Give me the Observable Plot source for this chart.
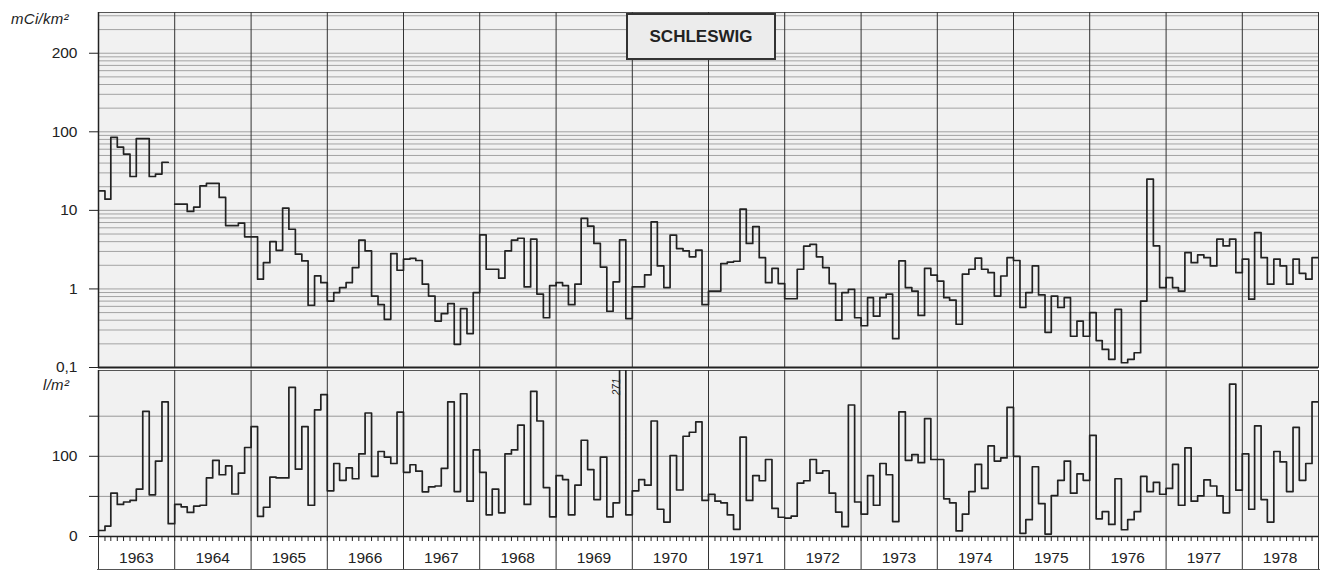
<!DOCTYPE html>
<html><head><meta charset="utf-8">
<script src="https://cdn.jsdelivr.net/npm/d3@7"></script>
<script src="https://cdn.jsdelivr.net/npm/@observablehq/plot@0.6"></script>
<style>
body{margin:0;background:#fff;font-family:"Liberation Sans",Arial,sans-serif;}
#wrap{position:relative;width:1338px;height:572px;overflow:hidden;}
#wrap svg{display:block;}
.unit{position:absolute;font-style:italic;font-size:15px;color:#222;letter-spacing:0.3px;}
#title{position:absolute;left:626px;top:13px;width:150px;height:47px;border:2px solid #333;background:#ececec;box-sizing:border-box;display:flex;align-items:center;justify-content:center;font-weight:bold;font-size:17px;color:#222;}
#baseline{position:absolute;left:97px;top:569px;width:1223px;height:0;border-top:1.5px solid #555;}
</style></head><body>
<div id="wrap">
  <div id="top"></div>
  <div id="bot"></div>
  <div class="unit" style="left:11px;top:10px">mCi/km²</div>
  <div class="unit" style="left:43px;top:376px">l/m²</div>
  <div id="title">SCHLESWIG</div>
  <div id="baseline"></div>
</div>
<script>
// ---- data ----
const years = [1963,1964,1965,1966,1967,1968,1969,1970,1971,1972,1973,1974,1975,1976,1977,1978];

// Monthly activity deposition, mCi/km² (log scale); null = no value
const activity = [
  /*1963*/ 17.7, 13.9, 85, 64, 52, 27, 82, 82, 27, 29, 41, null,
  /*1964*/ 12, 12, 9.7, 11, 20.5, 22, 22, 14.6, 6.4, 6.4, 6.9, 4.6,
  /*1965*/ 4.6, 1.33, 2.16, 4.0, 3.1, 10.7, 5.75, 2.77, 2.27, 0.62, 1.47, 1.2,
  /*1966*/ 0.70, 0.9, 1.04, 1.2, 1.87, 4.17, 3.05, 0.81, 0.63, 0.41, 2.82, 1.73,
  /*1967*/ 2.39, 2.45, 2.3, 1.15, 0.81, 0.39, 0.485, 0.65, 0.197, 0.56, 0.27, 0.90,
  /*1968*/ 4.87, 1.78, 1.78, 1.37, 3.05, 4.17, 4.42, 1.06, 4.3, 0.86, 0.43, 1.1,
  /*1969*/ 1.2, 1.1, 0.63, 1.15, 7.9, 6.3, 3.8, 1.9, 0.52, 1.23, 4.2, 0.42,
  /*1970*/ 1.06, 1.06, 1.51, 7.13, 1.96, 1.04, 4.83, 3.26, 3.05, 2.56, 3.11, 0.63,
  /*1971*/ 0.94, 0.94, 2.1, 2.2, 2.25, 10.4, 3.8, 6.2, 2.5, 1.2, 1.83, 1.17,
  /*1972*/ 0.75, 0.75, 1.78, 3.5, 3.7, 2.56, 1.87, 1.17, 0.40, 0.9, 0.99, 0.43,
  /*1973*/ 0.34, 0.775, 0.45, 0.775, 0.86, 0.233, 2.27, 1.04, 0.94, 0.46, 1.83, 1.5,
  /*1974*/ 1.26, 0.775, 0.72, 0.355, 1.54, 1.78, 2.46, 1.78, 1.61, 0.81, 1.46, 2.5,
  /*1975*/ 2.3, 0.58, 0.9, 1.96, 0.84, 0.28, 0.81, 0.58, 0.775, 0.25, 0.39, 0.25,
  /*1976*/ 0.5, 0.22, 0.17, 0.127, 0.55, 0.115, 0.127, 0.154, 0.70, 25, 3.53, 1.04,
  /*1977*/ 1.39, 1.04, 0.94, 2.9, 2.16, 2.71, 2.5, 1.96, 4.3, 3.53, 4.3, 1.61,
  /*1978*/ 2.39, 0.74, 5.2, 2.5, 1.15, 2.39, 1.96, 1.15, 2.39, 1.58, 1.33, 2.5
];

// Monthly precipitation, l/m²
const precipitation = [
  /*1963*/ 7.5, 13, 54, 40, 43, 45, 59, 156, 52, 94, 168, 16,
  /*1964*/ 40, 37, 30, 38, 39, 73, 95, 77, 88, 53, 79, 111,
  /*1965*/ 137, 25, 36.5, 74, 73, 73, 186, 84, 137, 39, 158, 177,
  /*1966*/ 57, 91, 70, 85.5, 72, 103, 154, 75, 106, 99, 91, 155,
  /*1967*/ 80, 89.5, 81.5, 55.7, 62, 63, 85, 168, 56, 178, 44, 108,
  /*1968*/ 80, 27, 59, 29.5, 103, 108, 139, 40, 181, 144, 61, 24.5,
  /*1969*/ 76, 71, 27, 64, 120, 83.5, 46, 99, 24.5, 42, 271, 27,
  /*1970*/ 57, 71, 64, 144, 34, 18, 101, 58, 125, 130, 143, 45,
  /*1971*/ 52.5, 44, 42, 27, 9, 124, 45, 76, 69.5, 96, 35, 24,
  /*1972*/ 23, 25.4, 66.5, 69.5, 96, 79, 82, 54, 30.5, 12.3, 164, 43,
  /*1973*/ 28, 76, 39, 91, 77, 18.6, 155.5, 95, 102, 92, 147, 96,
  /*1974*/ 96, 47, 42, 7, 28, 56, 90, 60, 113, 94, 98, 161,
  /*1975*/ 100, 4, 21, 87, 41, 3, 51, 70, 94, 54, 78, 70,
  /*1976*/ 126, 22, 31, 15, 72, 8.4, 21, 31, 75, 56, 67.5, 52.7,
  /*1977*/ 60, 90, 39, 110.5, 44, 50.6, 70.5, 63, 50.6, 29.5, 190, 57.8,
  /*1978*/ 103, 34, 138, 46, 18, 106, 93, 56, 136, 70, 91, 168
];

const topTicks = [0.1, 1, 10, 100, 1000];
const topTickLabels = ["0,1", "1", "10", "100", "200"];
const bottomTicks = [0, 50, 100, 150];
const bottomTickLabels = ["0", "", "100", ""];
const annotations = [{year: 1969, month: 10, label: "271"}];

// ---- derived ----
const firstYear = years[0];
const ym = (y, m) => new Date(Date.UTC(y, m, 1));
const xDomain = [ym(firstYear, 0), ym(years[years.length - 1] + 1, 0)];
const yearStarts = years.map(y => ym(y, 0)).concat([xDomain[1]]);
const midYears = years.map(y => ym(y, 6));
const monthStarts = d3.utcMonths(xDomain[0], xDomain[1]);

function steps(vals) {
  const pts = [];
  vals.forEach((v, i) => {
    const d0 = ym(firstYear, i), d1 = ym(firstYear, i + 1);
    if (v == null) pts.push({date: d0, v: NaN});
    else pts.push({date: d0, v}, {date: d1, v});
  });
  return pts;
}
const topSteps = steps(activity);
const botSteps = steps(precipitation);
const gridTop = [];
for (let e = -1; e <= 3; e++) for (let k = 1; k <= 9; k++) {
  const g = k * Math.pow(10, e);
  if (g <= 3300) gridTop.push(+g.toPrecision(3));
}

const font = {fontFamily: "'Liberation Sans', Arial, sans-serif", fontSize: "15px", color: "#222", background: "transparent", overflow: "visible"};
const W = 1338, ML = 98, MR = 20, FS = 15.5;

const topPlot = Plot.plot({
  width: W, height: 370, marginLeft: ML, marginRight: MR, marginTop: 12, marginBottom: 3,
  style: font,
  x: {type: "utc", domain: xDomain, axis: null},
  y: {type: "log", domain: [0.1, 3300], axis: null},
  marks: [
    Plot.frame({fill: "#f1f1f1", stroke: "#555", strokeWidth: 1}),
    Plot.ruleY(gridTop, {stroke: "#444", strokeWidth: 0.6, strokeOpacity: 0.75}),
    Plot.ruleX(yearStarts, {stroke: "#333", strokeWidth: 1}),
    Plot.axisY({ticks: topTicks, tickFormat: d => topTickLabels[topTicks.indexOf(d)], tickSize: 9, tickPadding: 12, fontSize: FS, label: null}),
    Plot.ruleY([0.1], {stroke: "#222", strokeWidth: 2}),
    Plot.ruleX([xDomain[0]], {stroke: "#222", strokeWidth: 1.5}),
    Plot.line(topSteps, {x: "date", y: "v", stroke: "#222", strokeWidth: 1.7, clip: true})
  ]
});

const botPlot = Plot.plot({
  width: W, height: 202, marginLeft: ML, marginRight: MR, marginTop: 0, marginBottom: 36,
  style: font,
  x: {type: "utc", domain: xDomain, axis: null},
  y: {domain: [0, 207], axis: null},
  marks: [
    Plot.frame({fill: "#f1f1f1", stroke: "#555", strokeWidth: 1}),
    Plot.ruleY([50, 100, 150], {stroke: "#555", strokeWidth: 0.7, strokeOpacity: 0.8}),
    Plot.ruleX(yearStarts, {stroke: "#333", strokeWidth: 1}),
    Plot.axisY({ticks: bottomTicks, tickFormat: d => bottomTickLabels[bottomTicks.indexOf(d)], tickSize: 9, tickPadding: 12, fontSize: FS, label: null}),
    Plot.axisX({ticks: monthStarts, tickFormat: () => "", tickSize: 5, label: null}),
    Plot.axisX({ticks: yearStarts, tickFormat: () => "", tickSize: 34, stroke: "#333", label: null}),
    Plot.axisX({ticks: midYears, tickFormat: d => String(d.getUTCFullYear()), tickSize: 0, tickPadding: 15, fontSize: FS, label: null}),
    Plot.ruleY([0], {stroke: "#222", strokeWidth: 1.5}),
    Plot.ruleX([xDomain[0]], {stroke: "#222", strokeWidth: 1.5}),
    Plot.line(botSteps, {x: "date", y: "v", stroke: "#222", strokeWidth: 1.7, clip: true}),
    Plot.text(annotations, {x: d => ym(d.year, d.month), text: "label", frameAnchor: "top", rotate: -90, textAnchor: "end", dx: -7, dy: 8, fontSize: 10, fontStyle: "italic", fill: "#222"})
  ]
});

document.getElementById("top").appendChild(topPlot);
document.getElementById("bot").appendChild(botPlot);
</script>
</body></html>
